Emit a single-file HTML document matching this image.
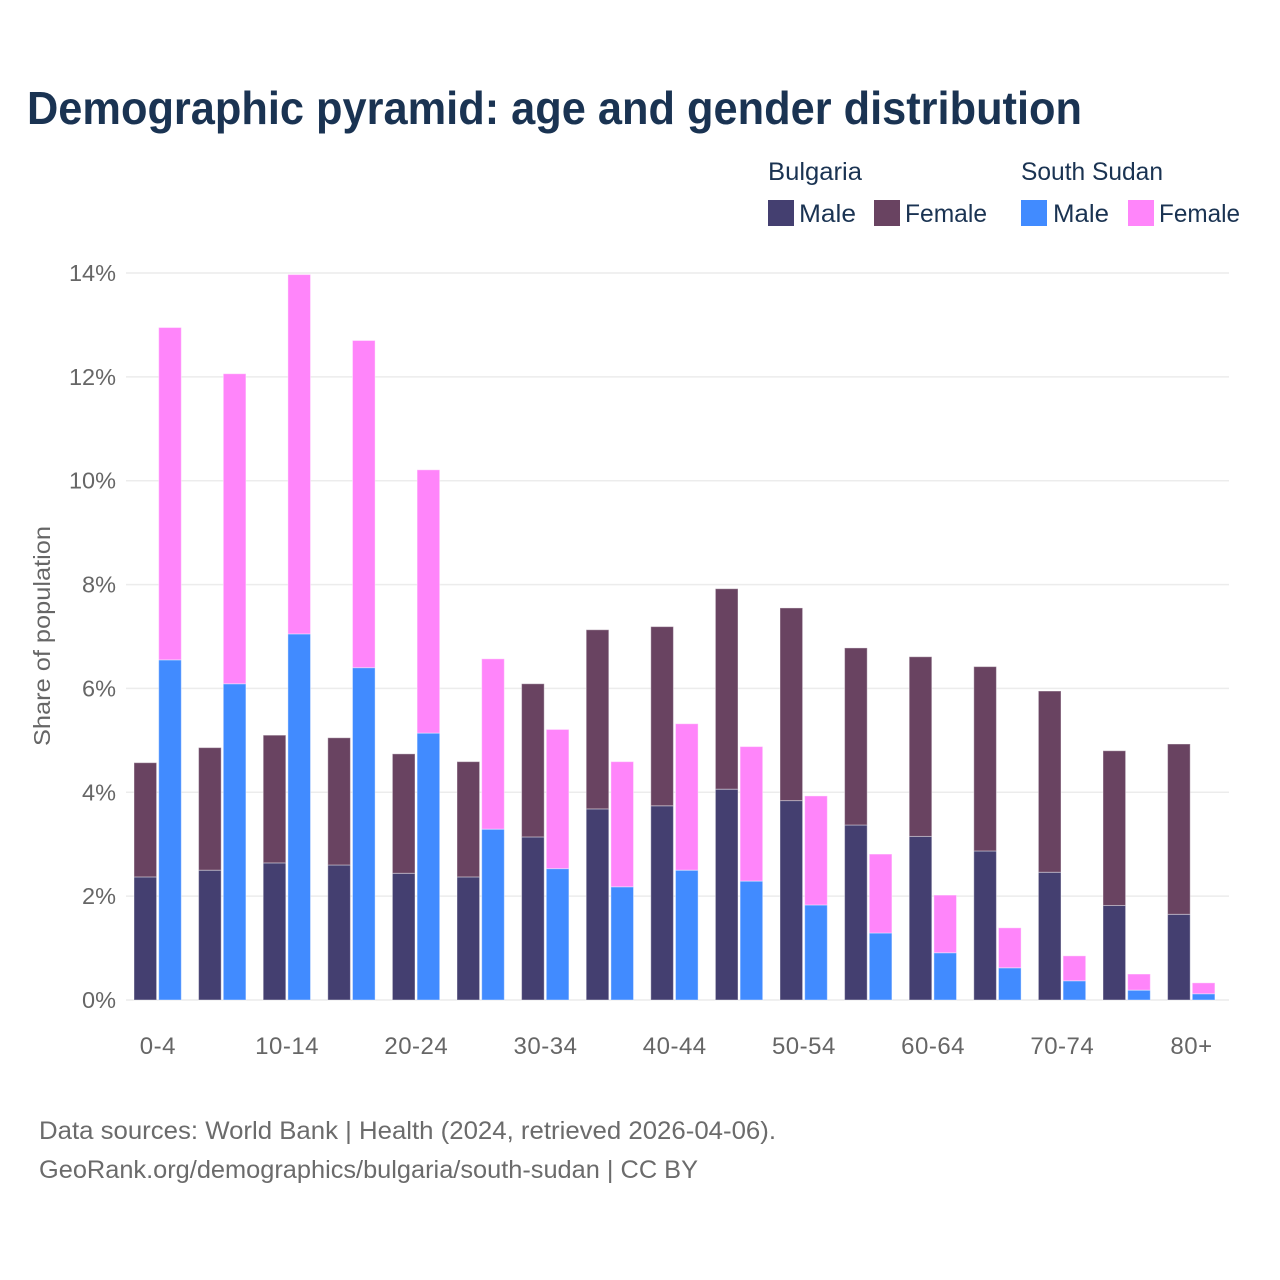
<!DOCTYPE html>
<html lang="en">
<head>
<meta charset="utf-8">
<title>Demographic pyramid</title>
<style>
html,body{margin:0;padding:0;background:#fff;}
svg{display:block;font-family:"Liberation Sans",sans-serif;}
</style>
</head>
<body>
<svg id="chart" xmlns="http://www.w3.org/2000/svg" width="1280" height="1280" viewBox="0 0 1280 1280">
<rect width="1280" height="1280" fill="#ffffff"/>
<text x="27" y="124" font-size="46" font-weight="700" fill="#1a3352" textLength="1055" lengthAdjust="spacingAndGlyphs">Demographic pyramid: age and gender distribution</text>

<g font-size="25" fill="#1a3352">
<text x="768" y="180" textLength="94" lengthAdjust="spacingAndGlyphs">Bulgaria</text>
<text x="1021" y="180" textLength="142" lengthAdjust="spacingAndGlyphs">South Sudan</text>
<rect x="768" y="200" width="26" height="26" fill="#443f70"/>
<text x="799" y="222" textLength="57" lengthAdjust="spacingAndGlyphs">Male</text>
<rect x="874" y="200" width="26" height="26" fill="#694361"/>
<text x="905" y="222" textLength="82" lengthAdjust="spacingAndGlyphs">Female</text>
<rect x="1021" y="200" width="26" height="26" fill="#418bff"/>
<text x="1053" y="222" textLength="56" lengthAdjust="spacingAndGlyphs">Male</text>
<rect x="1128" y="200" width="26" height="26" fill="#ff85fa"/>
<text x="1159" y="222" textLength="81" lengthAdjust="spacingAndGlyphs">Female</text>
</g>

<g id="grid"></g>
<g id="y-ticks"></g>
<g id="bars"></g>
<g id="x-ticks"></g>

<text transform="translate(50,636) rotate(-90)" text-anchor="middle" font-size="23" fill="#666666" textLength="220" lengthAdjust="spacingAndGlyphs">Share of population</text>

<g font-size="25" fill="#6b6b6b">
<text x="39" y="1139" textLength="737" lengthAdjust="spacingAndGlyphs">Data sources: World Bank | Health (2024, retrieved 2026-04-06).</text>
<text x="39" y="1178" textLength="659" lengthAdjust="spacingAndGlyphs">GeoRank.org/demographics/bulgaria/south-sudan | CC BY</text>
</g>
</svg>

<script>
const ageGroups = ["0-4","5-9","10-14","15-19","20-24","25-29","30-34","35-39","40-44","45-49","50-54","55-59","60-64","65-69","70-74","75-79","80+"];
const bulgariaMale = [2.37,2.50,2.64,2.60,2.44,2.37,3.14,3.68,3.74,4.06,3.84,3.37,3.15,2.87,2.46,1.82,1.65];
const bulgariaFemale = [2.20,2.36,2.46,2.45,2.30,2.22,2.95,3.45,3.45,3.86,3.71,3.41,3.46,3.55,3.49,2.98,3.28];
const southSudanMale = [6.55,6.09,7.05,6.40,5.14,3.29,2.53,2.18,2.50,2.29,1.83,1.29,0.91,0.62,0.37,0.19,0.12];
const southSudanFemale = [6.40,5.97,6.92,6.30,5.07,3.28,2.68,2.41,2.82,2.59,2.10,1.52,1.11,0.77,0.48,0.31,0.21];
const yTickValues = [0,2,4,6,8,10,12,14];
const xTickLabels = ["0-4","10-14","20-24","30-34","40-44","50-54","60-64","70-74","80+"];

const NS = "http://www.w3.org/2000/svg";
const plotLeft = 126, plotRight = 1229, plotBottom = 1000, plotTop = 273;
const bandStart = 125.2, bandStep = 64.6;
const yMax = 14;
const barWidth = 22.6;
const barOffsetA = -23.5, barOffsetB = 1.2;

function yScale(v) { return plotBottom - (v / yMax) * (plotBottom - plotTop); }
function xCenter(i) { return bandStart + bandStep * (i + 0.5); }

function makeEl(tag, attrs) {
  const el = document.createElementNS(NS, tag);
  for (const k in attrs) el.setAttribute(k, attrs[k]);
  return el;
}

const gridG = document.getElementById("grid");
const yG = document.getElementById("y-ticks");
yTickValues.forEach(function (v) {
  const y = yScale(v);
  const line = makeEl("line", { x1: plotLeft, x2: plotRight, y1: y, y2: y, stroke: "#ececec", "stroke-width": 1.5 });
  
  
  gridG.appendChild(line);
  const t = makeEl("text", { x: 116, y: y + 8, "text-anchor": "end", "font-size": 23.5, fill: "#666666" });
  
  
  t.textContent = v + "%";
  yG.appendChild(t);
});

const barsG = document.getElementById("bars");
function drawBar(i, offset, base, value, color, name) {
  const top = yScale(base + value);
  const bottom = yScale(base);
  const r = makeEl("rect", {
    x: xCenter(i) + offset, y: top, width: barWidth, height: bottom - top, fill: color,
    stroke: "#ffffff", "stroke-opacity": 0.4, "stroke-width": 1
  });
  
  
  barsG.appendChild(r);
}
ageGroups.forEach(function (age, i) {
  drawBar(i, barOffsetA, 0, bulgariaMale[i], "#443f70", "bar-bulgaria-male-" + age);
  drawBar(i, barOffsetA, bulgariaMale[i], bulgariaFemale[i], "#694361", "bar-bulgaria-female-" + age);
  drawBar(i, barOffsetB, 0, southSudanMale[i], "#418bff", "bar-south-sudan-male-" + age);
  drawBar(i, barOffsetB, southSudanMale[i], southSudanFemale[i], "#ff85fa", "bar-south-sudan-female-" + age);
});

const xG = document.getElementById("x-ticks");
xTickLabels.forEach(function (label) {
  const i = ageGroups.indexOf(label);
  const t = makeEl("text", { x: xCenter(i) + 0.4, y: 1054, "text-anchor": "middle", "font-size": 24, fill: "#666666", "letter-spacing": 0.5 });
  
  
  t.textContent = label;
  xG.appendChild(t);
});
</script>
</body>
</html>
